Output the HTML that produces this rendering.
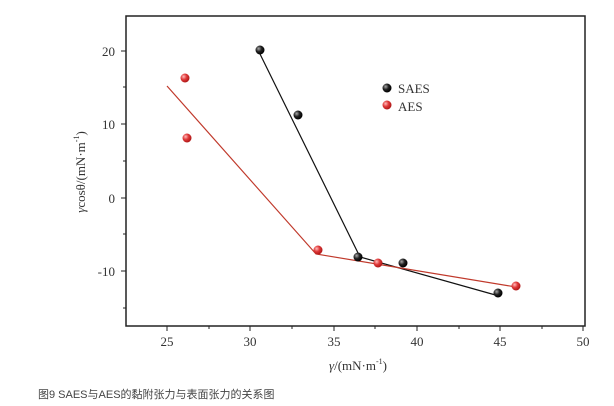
<!DOCTYPE html><html><head><meta charset="utf-8"><style>body{margin:0;background:#fff}svg{display:block}</style></head><body>
<svg width="614" height="406" xmlns="http://www.w3.org/2000/svg">
<defs>
<radialGradient id="b" cx="35%" cy="35%" r="65%"><stop offset="0" stop-color="#aaa"/><stop offset="0.5" stop-color="#222"/><stop offset="1" stop-color="#000"/></radialGradient>
<radialGradient id="r" cx="35%" cy="35%" r="65%"><stop offset="0" stop-color="#fbb"/><stop offset="0.5" stop-color="#e03a3a"/><stop offset="1" stop-color="#b01818"/></radialGradient>
</defs>
<g stroke="#222" stroke-width="1.5" fill="none">
<rect x="126" y="16" width="459" height="310"/>
</g>
<g stroke="#222" stroke-width="1">
<line x1="167" y1="326" x2="167" y2="331"/><line x1="250" y1="326" x2="250" y2="331"/><line x1="334" y1="326" x2="334" y2="331"/><line x1="417" y1="326" x2="417" y2="331"/><line x1="500" y1="326" x2="500" y2="331"/><line x1="583" y1="326" x2="583" y2="331"/>
<line x1="209" y1="326" x2="209" y2="329"/><line x1="292" y1="326" x2="292" y2="329"/><line x1="375" y1="326" x2="375" y2="329"/><line x1="459" y1="326" x2="459" y2="329"/><line x1="542" y1="326" x2="542" y2="329"/>
<line x1="121" y1="51" x2="126" y2="51"/><line x1="121" y1="124" x2="126" y2="124"/><line x1="121" y1="198" x2="126" y2="198"/><line x1="121" y1="271" x2="126" y2="271"/>
<line x1="123" y1="87" x2="126" y2="87"/><line x1="123" y1="161" x2="126" y2="161"/><line x1="123" y1="234" x2="126" y2="234"/><line x1="123" y1="308" x2="126" y2="308"/>
</g>
<g font-family="Liberation Serif, serif" font-size="13" fill="#333">
<g text-anchor="end"><text x="115" y="56">20</text><text x="115" y="129">10</text><text x="115" y="203">0</text><text x="115" y="276">-10</text></g>
<g text-anchor="middle"><text x="167" y="346">25</text><text x="250" y="346">30</text><text x="334" y="346">35</text><text x="417" y="346">40</text><text x="500" y="346">45</text><text x="583" y="346">50</text>
<text x="358" y="370"><tspan font-style="italic">γ</tspan>/(mN·m<tspan font-size="8" dy="-6">-1</tspan><tspan dy="6">)</tspan></text>
<text transform="translate(85,172) rotate(-90)"><tspan font-style="italic">γ</tspan>cosθ/(mN·m<tspan font-size="8" dy="-6">-1</tspan><tspan dy="6">)</tspan></text></g>
<text x="398" y="93">SAES</text><text x="398" y="111">AES</text>
</g>
<polyline points="260,54 360,257 499,296" fill="none" stroke="#111" stroke-width="1.2"/>
<polyline points="167,86 316,254 516,287" fill="none" stroke="#c0392b" stroke-width="1.2"/>
<g fill="url(#b)"><circle cx="260" cy="50" r="4.5"/><circle cx="298" cy="115" r="4.5"/><circle cx="358" cy="257" r="4.5"/><circle cx="403" cy="263" r="4.5"/><circle cx="498" cy="293" r="4.5"/><circle cx="387" cy="88" r="4.5"/></g>
<g fill="url(#r)"><circle cx="185" cy="78" r="4.5"/><circle cx="187" cy="138" r="4.5"/><circle cx="318" cy="250" r="4.5"/><circle cx="378" cy="263" r="4.5"/><circle cx="516" cy="286" r="4.5"/><circle cx="387" cy="105" r="4.5"/></g>
<text x="38" y="398" font-family="Liberation Sans, Noto Sans CJK SC, sans-serif" font-size="11" fill="#444">图9 SAES与AES的黏附张力与表面张力的关系图</text>
</svg></body></html>
